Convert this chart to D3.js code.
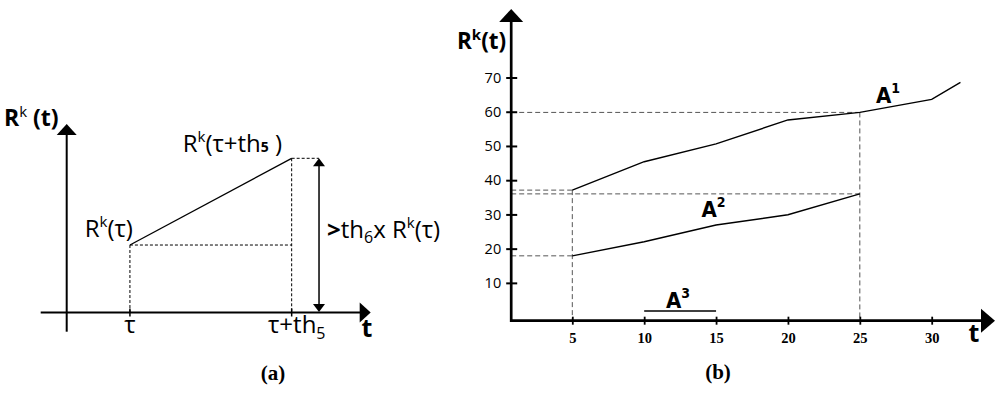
<!DOCTYPE html>
<html>
<head>
<meta charset="utf-8">
<script src="https://cdn.jsdelivr.net/npm/d3@7"></script>
<style>
  body { margin: 0; background: white; }
  text { fill: black; }
</style>
</head>
<body>
<div id="container"></div>
<script>
// panel (b) data
const tA1 = [5, 10, 15, 20, 25, 30, 32];
const valA1 = [37.1, 45.4, 50.6, 57.6, 59.8, 63.6, 68.6];
const tA2 = [5, 10, 15, 20, 25];
const valA2 = [17.9, 22, 26.9, 29.9, 36];
const tA3 = [10, 15];
const valA3 = [1.8, 1.8];
const xTicksB = [5, 10, 15, 20, 25, 30];
const yTicksB = [10, 20, 30, 40, 50, 60, 70];

// panel (a) schematic positions (abstract units)
const tA = [2.08, 7.4]; // tau, tau+th5
const rA = [3.58, 8.18]; // R(tau), R(tau+th5)
const tickLabelsA = ["τ", "τ+th"];

const w = 1000;
const h = 393;
const sans = "'Open Sans', 'Noto Sans', sans-serif";
const narrow = "'Liberation Sans Narrow', 'DejaVu Sans Condensed', 'Open Sans', sans-serif";
const serif = "'Liberation Serif', 'DejaVu Serif', serif";

const svg = d3
  .select("#container")
  .append("svg")
  .attr("width", w)
  .attr("height", h)
  .attr("viewBox", `0 0 ${w} ${h}`);

function arrowHead(g, x, y, dir, len, half) {
  // dir: "up", "right", "down"
  let p;
  if (dir == "up") p = [[x, y], [x - half, y + len], [x + half, y + len]];
  else if (dir == "down") p = [[x, y], [x - half, y - len], [x + half, y - len]];
  else p = [[x, y], [x - len, y - half], [x - len, y + half]];
  g.append("path").attr("d", "M" + p.join("L") + "Z").attr("fill", "black");
}

// ---------------- panel (a)
const xA = d3.scaleLinear().domain([0, 10]).range([66.7, 370.7]);
const yA = d3.scaleLinear().domain([0, 10]).range([312.5, 124]);
const ga = svg.append("g");

// axes
ga.append("line").attr("x1", 40.7).attr("x2", xA(10) - 8)
  .attr("y1", yA(0)).attr("y2", yA(0)).attr("stroke", "black").attr("stroke-width", 2);
arrowHead(ga, xA(10), yA(0), "right", 11, 10);
ga.append("line").attr("x1", xA(0)).attr("x2", xA(0))
  .attr("y1", 331.7).attr("y2", yA(10) + 8).attr("stroke", "black").attr("stroke-width", 2);
arrowHead(ga, xA(0), yA(10), "up", 11, 10);

// ticks
tA.forEach((t) => {
  ga.append("line").attr("x1", xA(t)).attr("x2", xA(t))
    .attr("y1", yA(0) - 4).attr("y2", yA(0) + 4)
    .attr("stroke", "black").attr("stroke-width", 1.5);
});

// dotted guides
const dotA = (x1, y1, x2, y2) =>
  ga.append("line").attr("x1", x1).attr("y1", y1).attr("x2", x2).attr("y2", y2)
    .attr("stroke", "black").attr("stroke-width", 1).attr("stroke-dasharray", "3,2");
dotA(xA(tA[0]), yA(rA[0]), xA(tA[0]), yA(0));
dotA(xA(tA[0]), yA(rA[0]), xA(tA[1]), yA(rA[0]));
dotA(xA(tA[1]), yA(rA[1]), xA(tA[1]), yA(0));
dotA(xA(tA[1]), yA(rA[1]), xA(8.3), yA(rA[1]));

// rising line
ga.append("path")
  .datum(tA.map((t, i) => [t, rA[i]]))
  .attr("fill", "none").attr("stroke", "black").attr("stroke-width", 1.3)
  .attr("d", d3.line().x((d) => xA(d[0])).y((d) => yA(d[1])));

// double arrow
ga.append("line").attr("x1", xA(8.3)).attr("x2", xA(8.3))
  .attr("y1", yA(rA[1]) + 5).attr("y2", yA(0) - 5).attr("stroke", "black").attr("stroke-width", 1.5);
arrowHead(ga, xA(8.3), yA(rA[1]), "up", 8, 6);
arrowHead(ga, xA(8.3), yA(0) - 0.5, "down", 8, 6);

// labels
const ta1 = ga.append("text").attr("x", 4).attr("y", 126)
  .attr("font-family", sans).attr("font-size", 23).attr("font-weight", "bold");
ta1.append("tspan").text("R");
ta1.append("tspan").attr("dy", -9).attr("font-size", 15).attr("font-weight", "normal").text("k");
ta1.append("tspan").attr("dy", 9).text(" (t)");

const ta2 = ga.append("text").attr("x", xA(tA[0]) + 3).attr("y", 236.7)
  .attr("text-anchor", "end").attr("font-family", sans).attr("font-size", 24);
ta2.append("tspan").text("R");
ta2.append("tspan").attr("dy", -10).attr("font-size", 15).text("k");
ta2.append("tspan").attr("dy", 10).text("(τ)");

const ta3 = ga.append("text").attr("x", 182.7).attr("y", 151.7)
  .attr("font-family", sans).attr("font-size", 24);
ta3.append("tspan").text("R");
ta3.append("tspan").attr("dy", -10).attr("font-size", 15).text("k");
ta3.append("tspan").attr("dy", 10).text("(τ+th");
ta3.append("tspan").attr("font-size", 14).attr("font-weight", "bold").text("5");
ta3.append("tspan").text(" )");

const ta4 = ga.append("text").attr("x", 327).attr("y", 238.3)
  .attr("font-family", sans).attr("font-size", 24);
ta4.append("tspan").attr("font-weight", "bold").text(">");
ta4.append("tspan").text("th");
ta4.append("tspan").attr("dy", 5).attr("font-size", 16).text("6");
ta4.append("tspan").attr("dy", -5).text("x R");
ta4.append("tspan").attr("dy", -10).attr("font-size", 15).text("k");
ta4.append("tspan").attr("dy", 10).text("(τ)");

ga.append("text").attr("x", xA(tA[0])).attr("y", 333)
  .attr("text-anchor", "middle").attr("font-family", sans).attr("font-size", 24)
  .text(tickLabelsA[0]);
const ta5 = ga.append("text").attr("x", 268).attr("y", 333)
  .attr("font-family", sans).attr("font-size", 24);
ta5.append("tspan").text(tickLabelsA[1]);
ta5.append("tspan").attr("dy", 6).attr("font-size", 16).text("5");

ga.append("text").attr("x", 367).attr("y", 337).attr("text-anchor", "middle")
  .attr("font-family", sans).attr("font-size", 25).attr("font-weight", "bold").text("t");

ga.append("text").attr("x", 273).attr("y", 380).attr("text-anchor", "middle")
  .attr("font-family", serif).attr("font-size", 21).attr("font-weight", "bold").text("(a)");

// ---------------- panel (b)
const xB = d3.scaleLinear().domain([5, 30]).range([572.3, 931.7]);
const yB = d3.scaleLinear().domain([0, 70]).range([317.1, 77.5]);
const gb = svg.append("g");
const x0 = xB(0.75);
const y0 = yB(-1.05);

// dashed guides
const dashB = (x1, y1, x2, y2) =>
  gb.append("line").attr("x1", x1).attr("y1", y1).attr("x2", x2).attr("y2", y2)
    .attr("stroke", "#555").attr("stroke-width", 1).attr("stroke-dasharray", "5,3");
dashB(x0, yB(valA1[4]), xB(tA1[4]), yB(valA1[4]));
dashB(xB(tA1[4]), yB(valA1[4]), xB(tA1[4]), y0);
dashB(x0, yB(valA1[0]), xB(tA1[0]), yB(valA1[0]));
dashB(x0, yB(valA2[4]), xB(tA2[4]), yB(valA2[4]));
dashB(xB(tA1[0]), yB(valA1[0]), xB(tA1[0]), y0);
dashB(x0, yB(valA2[0]), xB(tA2[0]), yB(valA2[0]));

// series
const lineB = d3.line().x((d) => xB(d[0])).y((d) => yB(d[1]));
[[tA1, valA1], [tA2, valA2], [tA3, valA3]].forEach(([ts, vs]) => {
  gb.append("path")
    .datum(ts.map((t, i) => [t, vs[i]]))
    .attr("fill", "none").attr("stroke", "black").attr("stroke-width", 1.4)
    .attr("d", lineB);
});

// axes
const yAxis = d3.axisLeft(yB).tickValues(yTicksB).tickSize(6).tickPadding(4);
const yg = gb.append("g").attr("transform", `translate(${x0}, 0)`).call(yAxis);
yg.select(".domain").remove();
yg.selectAll(".tick line").attr("x1", -5).attr("x2", 6).attr("stroke-width", 2);
yg.selectAll(".tick text").attr("font-family", sans).attr("font-size", 14.5).attr("fill", "black");

const xAxis = d3.axisBottom(xB).tickValues(xTicksB).tickSize(4).tickPadding(8);
const xg = gb.append("g").attr("transform", `translate(0, ${y0})`).call(xAxis);
xg.select(".domain").remove();
xg.selectAll(".tick line").attr("y1", -4).attr("y2", 4).attr("stroke-width", 1.8);
xg.selectAll(".tick text").attr("font-family", serif).attr("font-size", 14.5)
  .attr("font-weight", "bold").attr("fill", "black");

gb.append("line").attr("x1", x0).attr("x2", x0).attr("y1", y0 + 1.3).attr("y2", 18)
  .attr("stroke", "black").attr("stroke-width", 2.7);
arrowHead(gb, x0, 9, "up", 13, 12);
gb.append("line").attr("x1", x0).attr("x2", 984).attr("y1", y0).attr("y2", y0)
  .attr("stroke", "black").attr("stroke-width", 2.7);
arrowHead(gb, 995, y0, "right", 14, 12);

// labels
const tb1 = gb.append("text").attr("x", 457).attr("y", 49)
  .attr("font-family", sans).attr("font-size", 22.5).attr("font-weight", "bold");
tb1.append("tspan").text("R");
tb1.append("tspan").attr("dy", -9).attr("font-size", 15).text("k");
tb1.append("tspan").attr("dy", 9).text("(t)");

gb.append("text").attr("x", 974).attr("y", 342).attr("text-anchor", "middle")
  .attr("font-family", sans).attr("font-size", 25).attr("font-weight", "bold").text("t");

const seriesLabel = (x, y, sup) => {
  const t = gb.append("text").attr("x", x).attr("y", y)
    .attr("font-family", narrow).attr("font-stretch", "condensed")
    .attr("font-size", 22).attr("font-weight", "bold");
  t.append("tspan").text("A");
  t.append("tspan").attr("dy", -10).attr("font-size", 14).text(sup);
};
seriesLabel(876, 103.3, "1");
seriesLabel(701.5, 216.7, "2");
seriesLabel(666, 307.7, "3");

gb.append("text").attr("x", 718).attr("y", 379).attr("text-anchor", "middle")
  .attr("font-family", serif).attr("font-size", 21).attr("font-weight", "bold").text("(b)");
</script>
</body>
</html>
